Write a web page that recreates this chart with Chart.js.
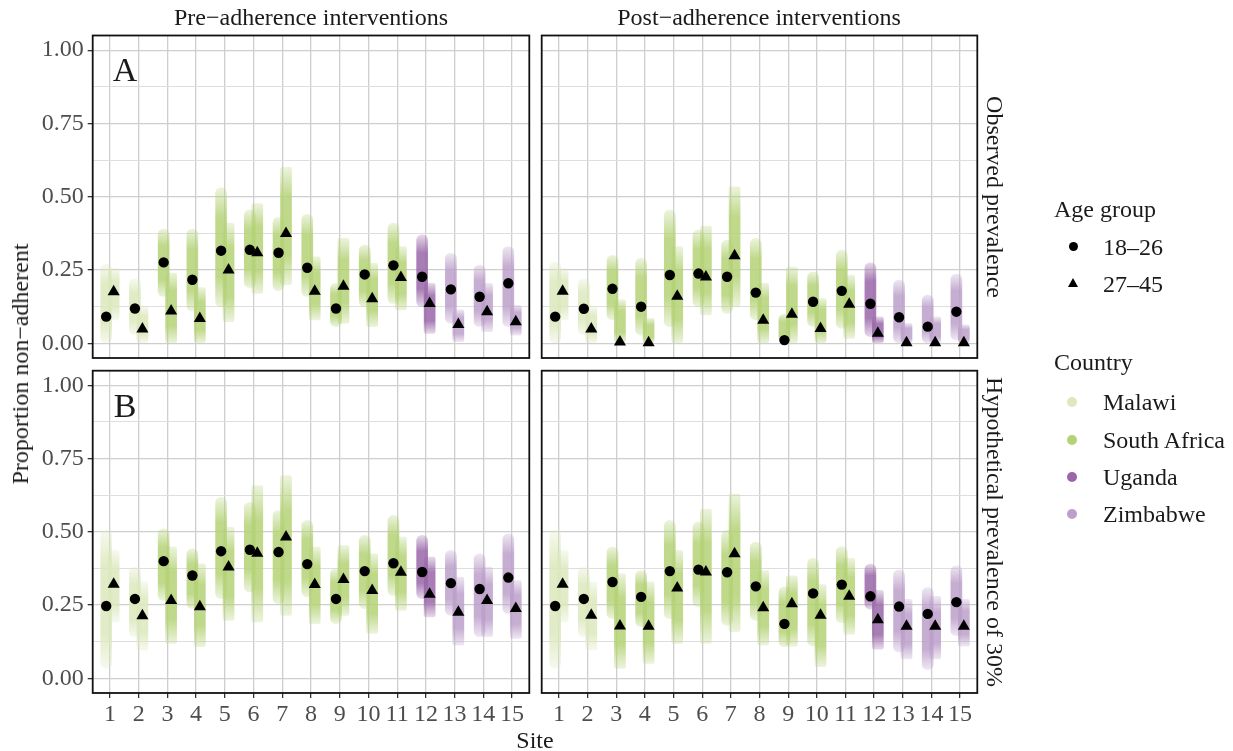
<!DOCTYPE html>
<html>
<head>
<meta charset="utf-8">
<script src="https://cdn.jsdelivr.net/npm/chart.js@4.4.1/dist/chart.umd.min.js"></script>
<style>
  body { margin: 0; background: #fff; }
  #wrap { position: relative; width: 1233px; height: 751px; overflow: hidden;
          font-family: 'Liberation Serif', 'Times New Roman', serif; color: #1a1a1a; }
  #wrap canvas { position: absolute; left: 0; top: 0; }
  .t { position: absolute; white-space: nowrap; line-height: 1; }
  .c { transform: translate(-50%, -50%); }
  .dot { position: absolute; border-radius: 50%; }
  .tri { position: absolute; width: 0; height: 0; border-left: 5.5px solid transparent;
         border-right: 5.5px solid transparent; border-bottom: 9.5px solid #000; }
</style>
</head>
<body>
<div id="wrap">
  <canvas id="obsPre" width="1233" height="751"></canvas>
  <canvas id="obsPost" width="1233" height="751"></canvas>
  <canvas id="hypPre" width="1233" height="751"></canvas>
  <canvas id="hypPost" width="1233" height="751"></canvas>

  <div class="t c" style="left:311px;top:17px;font-size:24px">Pre−adherence interventions</div>
  <div class="t c" style="left:759px;top:17px;font-size:24px">Post−adherence interventions</div>
  <div class="t c" style="left:995px;top:197px;font-size:24px;transform:translate(-50%,-50%) rotate(90deg)">Observed prevalence</div>
  <div class="t c" style="left:995px;top:532px;font-size:24px;transform:translate(-50%,-50%) rotate(90deg)">Hypothetical prevalence of 30%</div>
  <div class="t c" style="left:20px;top:364px;font-size:24px;transform:translate(-50%,-50%) rotate(-90deg)">Proportion non−adherent</div>
  <div class="t c" style="left:535px;top:740px;font-size:24px">Site</div>
  <div class="t c" style="left:125px;top:70px;font-size:34px">A</div>
  <div class="t c" style="left:125px;top:406px;font-size:34px">B</div>

  <div class="t" style="left:1054px;top:197px;font-size:24px">Age group</div>
  <div class="dot" style="left:1068.5px;top:241.5px;width:9px;height:9px;background:#000"></div>
  <div class="t" style="left:1103px;top:235px;font-size:24px">18–26</div>
  <div class="tri" style="left:1067.5px;top:278px"></div>
  <div class="t" style="left:1103px;top:272px;font-size:24px">27–45</div>

  <div class="t" style="left:1054px;top:350px;font-size:24px">Country</div>
  <div id="countryKeys"></div>
</div>

<script>
const sites = [1, 2, 3, 4, 5, 6, 7, 8, 9, 10, 11, 12, 13, 14, 15];
const siteCountry = ["Malawi", "Malawi", "South Africa", "South Africa", "South Africa",
  "South Africa", "South Africa", "South Africa", "South Africa", "South Africa",
  "South Africa", "Uganda", "Zimbabwe", "Zimbabwe", "Zimbabwe"];
const countries = ["Malawi", "South Africa", "Uganda", "Zimbabwe"];
const countryColors = ["#dce8bd", "#b4d276", "#9966a8", "#bc9fca"];

const yBreaks = [0, 0.25, 0.5, 0.75, 1];
const yLabels = ["0.00", "0.25", "0.50", "0.75", "1.00"];
const yMinor = [0.125, 0.375, 0.625, 0.875];

// observed prevalence, pre-adherence interventions
const obsPreMean18 = [0.091, 0.119, 0.276, 0.217, 0.316, 0.319, 0.309, 0.258, 0.119, 0.235, 0.266, 0.227, 0.184, 0.159, 0.205];
const obsPreMean27 = [0.176, 0.049, 0.110, 0.085, 0.250, 0.309, 0.375, 0.178, 0.195, 0.152, 0.225, 0.136, 0.064, 0.108, 0.074];
const obsPreRange18 = [[0, 0.27], [0.03, 0.22], [0.16, 0.39], [0.11, 0.39], [0.125, 0.53], [0.19, 0.455], [0.18, 0.43], [0.16, 0.44],
  [0.057, 0.205], [0.125, 0.335], [0.136, 0.41], [0.125, 0.37], [0.068, 0.307], [0.057, 0.267], [0.057, 0.33]];
const obsPreRange27 = [[0.08, 0.256], [0, 0.125], [0, 0.24], [0, 0.19], [0.074, 0.41], [0.17, 0.477], [0.2, 0.6], [0.08, 0.295],
  [0.068, 0.358], [0.057, 0.273], [0.114, 0.33], [0.034, 0.205], [0.006, 0.114], [0.04, 0.205], [0.028, 0.13]];

// observed prevalence, post-adherence interventions
const obsPostMean18 = [0.091, 0.118, 0.186, 0.125, 0.233, 0.238, 0.227, 0.173, 0.011, 0.142, 0.179, 0.135, 0.089, 0.057, 0.108];
const obsPostMean27 = [0.178, 0.049, 0.005, 0.002, 0.161, 0.226, 0.299, 0.079, 0.099, 0.051, 0.133, 0.034, 0.002, 0.002, 0.002];
const obsPostRange18 = [[0, 0.278], [0.03, 0.22], [0.08, 0.30], [0.028, 0.29], [0.057, 0.455], [0.125, 0.386], [0.102, 0.352], [0.08, 0.358],
  [0, 0.10], [0.057, 0.244], [0.051, 0.318], [0.023, 0.275], [0, 0.216], [0, 0.165], [0.011, 0.236]];
const obsPostRange27 = [[0.08, 0.256], [0, 0.125], [0, 0.148], [0, 0.085], [0, 0.33], [0.097, 0.40], [0.125, 0.534], [0, 0.205],
  [0, 0.26], [0, 0.153], [0.017, 0.233], [0, 0.09], [0, 0.068], [0, 0.09], [0, 0.063]];

// hypothetical prevalence of 30%, pre-adherence interventions
const hypPreMean18 = [0.247, 0.271, 0.400, 0.351, 0.434, 0.439, 0.431, 0.390, 0.271, 0.366, 0.393, 0.363, 0.325, 0.305, 0.344];
const hypPreMean27 = [0.321, 0.214, 0.266, 0.244, 0.380, 0.427, 0.482, 0.320, 0.337, 0.300, 0.362, 0.287, 0.226, 0.266, 0.238];
const hypPreRange18 = [[0.034, 0.505], [0.142, 0.38], [0.266, 0.51], [0.238, 0.442], [0.272, 0.618], [0.295, 0.60], [0.255, 0.573], [0.278, 0.539],
  [0.187, 0.374], [0.238, 0.488], [0.283, 0.556], [0.272, 0.488], [0.215, 0.437], [0.142, 0.425], [0.221, 0.493]];
const hypPreRange27 = [[0.193, 0.437], [0.096, 0.329], [0.119, 0.448], [0.108, 0.391], [0.198, 0.516], [0.193, 0.658], [0.215, 0.692], [0.187, 0.448],
  [0.215, 0.453], [0.153, 0.425], [0.232, 0.482], [0.21, 0.414], [0.113, 0.346], [0.142, 0.38], [0.136, 0.334]];

// hypothetical prevalence of 30%, post-adherence interventions
const hypPostMean18 = [0.247, 0.271, 0.329, 0.278, 0.366, 0.371, 0.362, 0.314, 0.186, 0.290, 0.320, 0.280, 0.245, 0.220, 0.260];
const hypPostMean27 = [0.321, 0.215, 0.179, 0.178, 0.308, 0.363, 0.425, 0.241, 0.255, 0.215, 0.280, 0.200, 0.178, 0.178, 0.178];
const hypPostRange18 = [[0.034, 0.505], [0.142, 0.38], [0.204, 0.448], [0.176, 0.368], [0.204, 0.539], [0.244, 0.533], [0.181, 0.505], [0.198, 0.465],
  [0.108, 0.312], [0.11, 0.41], [0.19, 0.45], [0.236, 0.39], [0.09, 0.37], [0.03, 0.31], [0.146, 0.384]];
const hypPostRange27 = [[0.193, 0.437], [0.096, 0.329], [0.034, 0.357], [0.051, 0.329], [0.119, 0.437], [0.119, 0.578], [0.159, 0.629], [0.113, 0.368],
  [0.11, 0.35], [0.04, 0.32], [0.15, 0.41], [0.10, 0.30], [0.066, 0.27], [0.066, 0.28], [0.11, 0.27]];

const dodge = 0.13;
const serif = "'Liberation Serif', 'Times New Roman', serif";

const rgba = (hex, a) => {
  const n = parseInt(hex.slice(1), 16);
  return `rgba(${(n >> 16) & 255},${(n >> 8) & 255},${n & 255},${a})`;
};
const siteColor = (i) => countryColors[countries.indexOf(siteCountry[i])];
const isMajor = (v) => yBreaks.some((b) => Math.abs(b - v) < 1e-6);

// clouds fade out towards their ends, like overlapping translucent points
function cloudFill(ctx) {
  const col = siteColor(ctx.dataIndex);
  const chart = ctx.chart;
  if (!chart.chartArea || !ctx.raw) return rgba(col, 0.6);
  const y = chart.scales.y;
  const top = y.getPixelForValue(ctx.raw.y[1]);
  const bot = y.getPixelForValue(ctx.raw.y[0]);
  const g = chart.ctx.createLinearGradient(0, top, 0, bot + 0.01);
  g.addColorStop(0, rgba(col, 0.25));
  g.addColorStop(0.25, rgba(col, 0.85));
  g.addColorStop(0.75, rgba(col, 0.85));
  g.addColorStop(1, rgba(col, 0.25));
  return g;
}

const framePlugin = {
  id: "frame",
  afterDraw(chart) {
    const { ctx, chartArea: a } = chart;
    ctx.save();
    ctx.strokeStyle = "#111";
    ctx.lineWidth = 1.8;
    ctx.strokeRect(a.left, a.top, a.right - a.left, a.bottom - a.top);
    ctx.restore();
  },
};

function makePanel(id, box, mean18, mean27, range18, range27) {
  const cloud = (range, off) => sites.map((s, i) => ({ x: s + off, y: range[i] }));
  const means = (vals, off) => sites.map((s, i) => ({ x: s + off, y: vals[i] }));

  return new Chart(document.getElementById(id), {
    type: "bar",
    data: {
      datasets: [
        {
          data: cloud(range18, -dodge),
          backgroundColor: cloudFill,
          barThickness: 11,
          borderRadius: 5.5,
          borderSkipped: false,
          grouped: false,
          order: 3,
        },
        {
          data: cloud(range27, dodge),
          backgroundColor: cloudFill,
          barThickness: 11,
          borderRadius: 2,
          borderSkipped: false,
          grouped: false,
          order: 2,
        },
        {
          type: "scatter",
          data: means(mean18, -dodge),
          pointStyle: "circle",
          pointRadius: 5.2,
          backgroundColor: "#000",
          borderWidth: 0,
          order: 1,
        },
        {
          type: "scatter",
          data: means(mean27, dodge),
          pointStyle: "triangle",
          pointRadius: 7,
          backgroundColor: "#000",
          borderWidth: 0,
          order: 1,
        },
      ],
    },
    options: {
      responsive: false,
      animation: false,
      events: [],
      layout: { padding: box.padding },
      plugins: {
        legend: { display: false },
        tooltip: { enabled: false },
      },
      scales: {
        x: {
          type: "linear",
          min: 0.4,
          max: 15.6,
          offset: false,
          afterBuildTicks: (scale) => {
            scale.ticks = sites.map((s) => ({ value: s }));
          },
          afterFit: (scale) => {
            scale.height = box.xHeight;
          },
          border: { display: false },
          grid: {
            offset: false,
            color: "#cecece",
            lineWidth: 1.3,
            drawTicks: box.xLabels,
            tickLength: 5,
            tickColor: "#333",
            tickWidth: 1.3,
          },
          ticks: {
            display: box.xLabels,
            autoSkip: false,
            maxRotation: 0,
            padding: 2,
            color: "#4d4d4d",
            font: { family: serif, size: 24 },
            callback: (v) => String(v),
          },
        },
        y: {
          min: -0.05,
          max: 1.05,
          afterBuildTicks: (scale) => {
            scale.ticks = yBreaks.concat(yMinor).sort((a, b) => a - b).map((v) => ({ value: v }));
          },
          afterFit: (scale) => {
            scale.width = box.yWidth;
          },
          border: { display: false },
          grid: {
            color: (c) => (isMajor(c.tick.value) ? "#cecece" : "#dedede"),
            lineWidth: (c) => (isMajor(c.tick.value) ? 1.3 : 1),
            drawTicks: box.yLabels,
            tickLength: 5,
            tickColor: (c) => (isMajor(c.tick.value) ? "#333" : "rgba(0,0,0,0)"),
            tickWidth: 1.3,
          },
          ticks: {
            display: box.yLabels,
            padding: 4,
            color: "#4d4d4d",
            font: { family: serif, size: 24 },
            callback: (v) => {
              const k = yBreaks.findIndex((b) => Math.abs(b - v) < 1e-6);
              return k >= 0 ? yLabels[k] : "";
            },
          },
        },
      },
    },
    plugins: [framePlugin],
  });
}

const leftRight = 1233 - 529.3;
const rightRight = 1233 - 977.3;

makePanel("obsPre",
  { padding: { left: 0, top: 35.5, right: leftRight, bottom: 751 - 358 }, xHeight: 0, yWidth: 92.7, xLabels: false, yLabels: true },
  obsPreMean18, obsPreMean27, obsPreRange18, obsPreRange27);
makePanel("obsPost",
  { padding: { left: 541.7, top: 35.5, right: rightRight, bottom: 751 - 358 }, xHeight: 0, yWidth: 0, xLabels: false, yLabels: false },
  obsPostMean18, obsPostMean27, obsPostRange18, obsPostRange27);
makePanel("hypPre",
  { padding: { left: 0, top: 370.7, right: leftRight, bottom: 28 }, xHeight: 30, yWidth: 92.7, xLabels: true, yLabels: true },
  hypPreMean18, hypPreMean27, hypPreRange18, hypPreRange27);
makePanel("hypPost",
  { padding: { left: 541.7, top: 370.7, right: rightRight, bottom: 28 }, xHeight: 30, yWidth: 0, xLabels: true, yLabels: false },
  hypPostMean18, hypPostMean27, hypPostRange18, hypPostRange27);

// country key
const keyTops = [402, 440, 477, 514];
const keys = document.getElementById("countryKeys");
countries.forEach((name, i) => {
  const d = document.createElement("div");
  d.className = "dot";
  d.style.cssText = `left:1067px;top:${keyTops[i] - 5}px;width:10px;height:10px;background:${countryColors[i]}`;
  keys.appendChild(d);
  const t = document.createElement("div");
  t.className = "t";
  t.style.cssText = `left:1103px;top:${keyTops[i] - 12}px;font-size:24px`;
  t.textContent = name;
  keys.appendChild(t);
});
</script>
</body>
</html>
